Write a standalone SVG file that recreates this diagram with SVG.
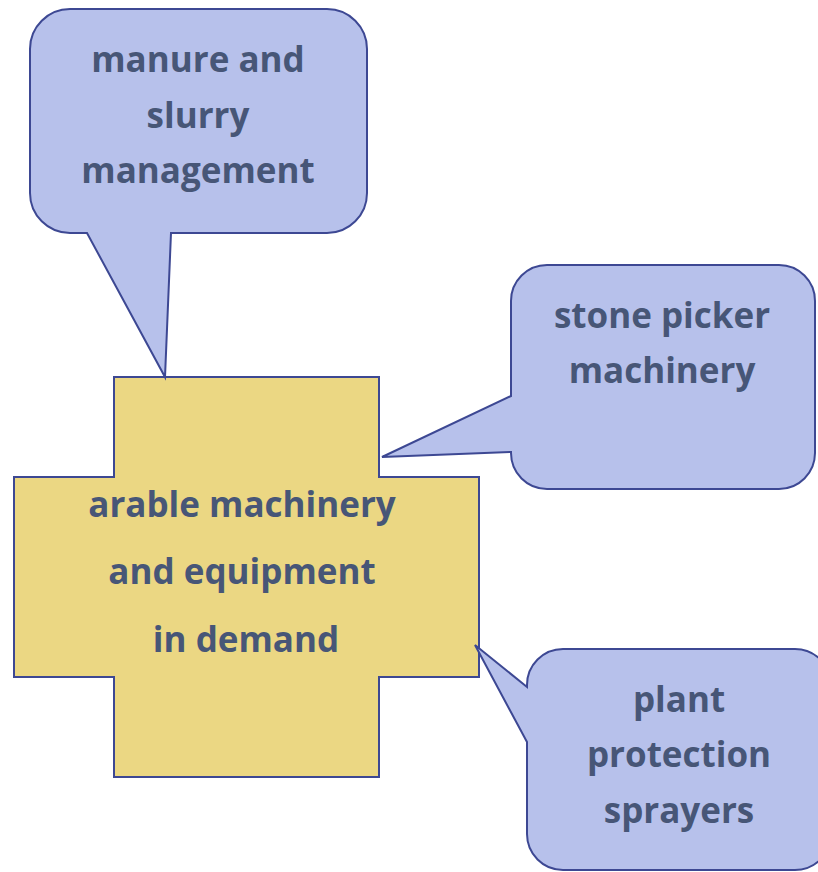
<svg xmlns="http://www.w3.org/2000/svg" width="818" height="872" viewBox="0 0 818 872">
<style>
.callout{fill:#b7c1eb;stroke:#3d4893;stroke-width:2;stroke-linejoin:miter}
.cross{fill:#ebd783;stroke:#3d4893;stroke-width:2}
.t{font-family:"Open Sans","Noto Sans",sans-serif;font-weight:700;font-size:35px;fill:#475677;text-anchor:middle}
</style>
<rect width="818" height="872" fill="#ffffff"/>
<g id="center">
<polygon class="cross" points="114,377 379,377 379,477 479,477 479,677 379,677 379,777 114,777 114,677 14,677 14,477 114,477"/>
<text class="t" x="242" y="517">arable machinery</text>
<text class="t" x="242" y="584">and equipment</text>
<text class="t" x="246" y="652">in demand</text>
</g>
<g id="connectors"></g>
<g id="manure">
<path class="callout" d="M70,9 H327 A40 40 0 0 1 367 49 V193 A40 40 0 0 1 327 233 H171 L165 377 L87 233 H70 A40 40 0 0 1 30 193 V49 A40 40 0 0 1 70 9 Z"/>
<text class="t" x="198" y="72">manure and</text>
<text class="t" x="198" y="128">slurry</text>
<text class="t" x="198" y="183">management</text>
</g>
<g id="stone">
<path class="callout" d="M547,265 H779 A36 36 0 0 1 815 301 V453 A36 36 0 0 1 779 489 H547 A36 36 0 0 1 511 453 V452 L382 457 L511 396 V301 A36 36 0 0 1 547 265 Z"/>
<text class="t" x="662" y="328">stone picker</text>
<text class="t" x="662" y="383">machinery</text>
</g>
<g id="plant">
<path class="callout" d="M563,649 H795 A36 36 0 0 1 831 685 V834 A36 36 0 0 1 795 870 H563 A36 36 0 0 1 527 834 V742 L475 645 L527 687 V685 A36 36 0 0 1 563 649 Z"/>
<text class="t" x="679" y="712">plant</text>
<text class="t" x="679" y="767">protection</text>
<text class="t" x="679" y="823">sprayers</text>
</g>
</svg>
